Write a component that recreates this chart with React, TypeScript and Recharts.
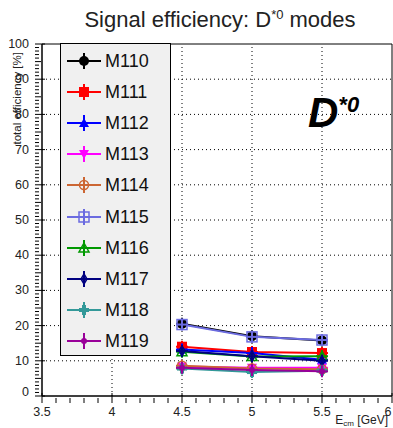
import React from "react";
import {
  LineChart,
  Line,
  XAxis,
  YAxis,
  ReferenceLine,
  ReferenceArea,
  Legend,
} from "recharts";

const energies = [4.5, 5.0, 5.5];

const M110 = [20.5, 17.0, 15.8];
const M111 = [14.0, 12.5, 12.2];
const M112 = [13.2, 12.2, 10.3];
const M113 = [8.4, 8.0, 8.0];
const M114 = [8.6, 7.8, 7.6];
const M115 = [20.3, 16.8, 15.9];
const M116 = [12.6, 11.2, 11.3];
const M117 = [12.8, 11.3, 10.0];
const M118 = [7.8, 6.8, 7.2];
const M119 = [8.0, 7.4, 7.0];

const xMajor = [3.5, 4, 4.5, 5, 5.5, 6];
const xGrid = [4, 4.5, 5, 5.5];
const yGrid = [10, 20, 30, 40, 50, 60, 70, 80, 90];

type Kind =
  | "circle"
  | "square"
  | "triUp"
  | "triDown"
  | "openCircle"
  | "openSquare"
  | "openTri"
  | "openDiamond"
  | "cross"
  | "star";

const series: { name: string; values: number[]; color: string; kind: Kind }[] = [
  { name: "M110", values: M110, color: "#000000", kind: "circle" },
  { name: "M111", values: M111, color: "#ff0000", kind: "square" },
  { name: "M112", values: M112, color: "#0000ff", kind: "triUp" },
  { name: "M113", values: M113, color: "#ff00ff", kind: "triDown" },
  { name: "M114", values: M114, color: "#cc6633", kind: "openCircle" },
  { name: "M115", values: M115, color: "#6b6be0", kind: "openSquare" },
  { name: "M116", values: M116, color: "#009900", kind: "openTri" },
  { name: "M117", values: M117, color: "#000080", kind: "openDiamond" },
  { name: "M118", values: M118, color: "#339999", kind: "cross" },
  { name: "M119", values: M119, color: "#990099", kind: "star" },
];

const rows = energies.map((e, i) => {
  const r: Record<string, number> = { e };
  series.forEach((s) => (r[s.name] = s.values[i]));
  return r;
});

const font = "'Liberation Sans', Arial, sans-serif";

const Marker = ({ cx, cy, color, kind }: { cx: number; cy: number; color: string; kind: Kind }) => {
  const r = 5;
  switch (kind) {
    case "circle":
      return <circle cx={cx} cy={cy} r={r} fill={color} />;
    case "square":
      return <rect x={cx - r} y={cy - r} width={2 * r} height={2 * r} fill={color} />;
    case "triUp":
      return <polygon points={`${cx},${cy - r} ${cx + r},${cy + r * 0.8} ${cx - r},${cy + r * 0.8}`} fill={color} />;
    case "triDown":
      return <polygon points={`${cx},${cy + r} ${cx + r},${cy - r * 0.8} ${cx - r},${cy - r * 0.8}`} fill={color} />;
    case "openCircle":
      return <circle cx={cx} cy={cy} r={r - 0.5} fill="none" stroke={color} strokeWidth={1.5} />;
    case "openSquare":
      return <rect x={cx - r} y={cy - r} width={2 * r} height={2 * r} fill="none" stroke={color} strokeWidth={1.5} />;
    case "openTri":
      return <polygon points={`${cx},${cy - r} ${cx + r},${cy + r * 0.8} ${cx - r},${cy + r * 0.8}`} fill="none" stroke={color} strokeWidth={1.5} />;
    case "openDiamond":
      return <polygon points={`${cx},${cy - r} ${cx + r * 0.6},${cy} ${cx},${cy + r} ${cx - r * 0.6},${cy}`} fill="none" stroke={color} strokeWidth={1.5} />;
    case "cross":
      return (
        <g fill={color}>
          <rect x={cx - r} y={cy - 2} width={2 * r} height={4} />
          <rect x={cx - 2} y={cy - r} width={4} height={2 * r} />
        </g>
      );
    case "star":
      return <circle cx={cx} cy={cy} r={3} fill={color} />;
  }
  return null;
};

const makeDot = (color: string, kind: Kind) => (p: any) => {
  const { cx, cy, index } = p;
  if (cx == null || cy == null) return <g key={index} />;
  return (
    <g key={index}>
      <line x1={cx - 6} x2={cx + 6} y1={cy} y2={cy} stroke={color} strokeWidth={2} />
      <line x1={cx} x2={cx} y1={cy - 6} y2={cy + 6} stroke={color} strokeWidth={2} />
      <Marker cx={cx} cy={cy} color={color} kind={kind} />
    </g>
  );
};

const XTick = (p: any) => {
  const { x, y, payload } = p;
  const v = payload.value as number;
  const major = xMajor.some((m) => Math.abs(m - v) < 1e-6);
  const axisY = y - 1;
  return (
    <g>
      <line x1={x} x2={x} y1={axisY} y2={axisY - (major ? 10 : 5)} stroke="#000" strokeWidth={1} />
      {major && (
        <text x={v === 6 ? x - 4 : x} y={axisY + 12.5} textAnchor="middle" fontSize={12.5} fontFamily={font} fill="#222">
          {String(v)}
        </text>
      )}
    </g>
  );
};

const YTick = (p: any) => {
  const { x, y, payload } = p;
  const v = payload.value as number;
  const major = v % 10 === 0;
  const mid = v % 5 === 0;
  const axisX = x + 1;
  return (
    <g>
      <line x1={axisX} x2={axisX + (major ? 10 : mid ? 6 : 4)} y1={y} y2={y} stroke="#000" strokeWidth={1} />
      {major && (
        <text x={axisX - 6} y={v === 0 ? y : y + 4} textAnchor="end" fontSize={12.5} fontFamily={font} fill="#222">
          {String(v)}
        </text>
      )}
    </g>
  );
};

const xTicks: number[] = [];
for (let i = 0; i <= 25; i++) xTicks.push(Math.round((3.5 + i * 0.1) * 10) / 10);
const yTicks: number[] = [];
for (let i = 0; i <= 100; i++) yTicks.push(i);

const LegendBox = () => (
  <div
    style={{
      position: "absolute",
      left: 60,
      top: 43,
      width: 111,
      height: 313,
      background: "#f0f0f0",
      border: "1px solid #000",
      boxSizing: "border-box",
    }}
  >
    {series.map((s, i) => (
      <div key={s.name} style={{ position: "absolute", left: 0, top: 4 + i * 31.1, height: 26, width: 108 }}>
        <svg width={40} height={26} style={{ position: "absolute", left: 4, top: 0 }}>
          <line x1={2} x2={36} y1={13} y2={13} stroke={s.color} strokeWidth={2} />
          <line x1={19} x2={19} y1={5} y2={21} stroke={s.color} strokeWidth={2} />
          <Marker cx={19} cy={13} color={s.color} kind={s.kind} />
        </svg>
        <span
          style={{
            position: "absolute",
            left: 44,
            top: 3,
            fontFamily: font,
            fontSize: 18,
            color: "#111",
            lineHeight: "20px",
          }}
        >
          {s.name}
        </span>
      </div>
    ))}
  </div>
);

export default function App() {
  return (
    <div style={{ position: "absolute", left: 0, top: 0, width: 393, height: 428, background: "#fff", fontFamily: font }}>
      <LineChart width={393} height={428} data={rows} margin={{ top: 44, right: 1, bottom: 0, left: 0 }}>
        <XAxis
          dataKey="e"
          type="number"
          domain={[3.5, 6]}
          ticks={xTicks}
          tick={<XTick />}
          tickLine={false}
          axisLine={{ stroke: "#000" }}
          height={32}
          interval={0}
          allowDataOverflow
        />
        <YAxis
          type="number"
          domain={[0, 100]}
          ticks={yTicks}
          tick={<YTick />}
          tickLine={false}
          axisLine={{ stroke: "#000" }}
          width={42}
          interval={0}
        />
        {xGrid.map((v) => (
          <ReferenceLine key={"x" + v} x={v} stroke="#000" strokeDasharray="1 3" strokeWidth={1} />
        ))}
        {yGrid.map((v) => (
          <ReferenceLine key={"y" + v} y={v} stroke="#000" strokeDasharray="1 3" strokeWidth={1} />
        ))}
        <ReferenceArea x1={3.5} x2={6} y1={0} y2={100} fill="none" stroke="#000" strokeWidth={1} fillOpacity={0} />
        <Legend content={() => <LegendBox />} wrapperStyle={{ position: "absolute", left: 0, top: 0, width: 0, height: 0 }} />
        {series.map((s) => (
          <Line
            key={s.name}
            dataKey={s.name}
            stroke={s.color}
            strokeWidth={2}
            dot={makeDot(s.color, s.kind)}
            isAnimationActive={false}
          />
        ))}
      </LineChart>
      <svg width={393} height={428} style={{ position: "absolute", left: 0, top: 0, pointerEvents: "none" }}>
        <text x={220} y={27} textAnchor="middle" fontSize={22} fontFamily={font} fill="#222">
          Signal efficiency: D
          <tspan dy={-8} fontSize={13}>*0</tspan>
          <tspan dy={8}> modes</tspan>
        </text>
        <text
          transform="translate(21, 52) rotate(-90)"
          textAnchor="end"
          fontSize={11.5}
          fontFamily={font}
          fill="#222"
        >
          total efficiency [%]
        </text>
        <text x={388} y={424} textAnchor="end" fontSize={12} fontFamily={font} fill="#222">
          E<tspan dy={2} fontSize={8}>cm</tspan>
          <tspan dy={-2}> [GeV]</tspan>
        </text>
        <text x={308} y={127} fontSize={42} fontWeight="bold" fontStyle="italic" fontFamily={font} fill="#000">
          D<tspan dy={-15} fontSize={22}>*0</tspan>
        </text>
      </svg>
    </div>
  );
}
